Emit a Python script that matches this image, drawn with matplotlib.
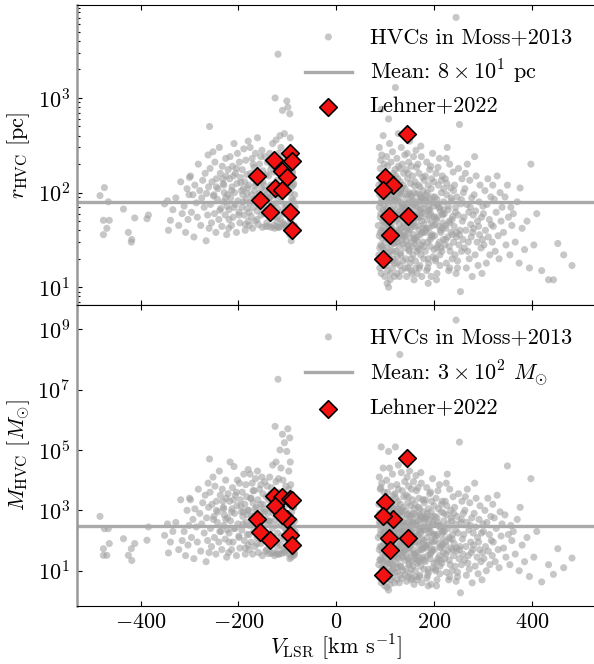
import numpy as np
import matplotlib
matplotlib.use("Agg")
import matplotlib.pyplot as plt
from matplotlib.ticker import NullLocator, FixedLocator, LogFormatterSciNotation

# ---------------- data ----------------
# HVCs in Moss+2013: velocity [km/s], radius [pc], log10 mass [Msun]
hvc_v = [
    -483, -474, -466, -476, -464, -469, -476, -435, -425, -418, -412, -419, -387, -384, -351, -345, -343, -339, -334,
    -328, -322, -318, -315, -311, -308, -305, -303, -301, -300,
    -298, -296, -293, -291, -289, -286, -284, -282, -279, -277, -275, -273, -270, -268, -266, -265, -263, -262, -261, -260,
    -259, -258, -257, -255, -254, -252, -251, -249, -248, -246, -245, -243, -242, -240, -239, -237, -236, -234, -233, -231,
    -230, -229, -227, -226, -225, -224, -223, -222, -221, -220,
    -219, -218, -217, -216, -214, -213, -212, -211, -209, -208, -207, -206, -204, -203, -202, -201, -199, -198, -197, -196,
    -194, -193, -192, -191, -189, -188, -187, -186, -185, -184, -183, -182, -181, -180, -180,
    -179, -178, -177, -176, -175, -174, -173, -172, -171, -170, -169, -168, -167, -166, -165, -164, -163, -162, -161, -160,
    -159, -158, -157, -156, -155, -154, -153, -152, -151, -150, -149, -148, -147, -146, -145, -144, -143, -142, -141, -140,
    -139, -138, -137, -136, -135, -134, -133, -132, -131, -130, -129, -128, -127, -126, -125, -124, -123, -122, -121, -120,
    -119, -118, -117, -116, -115, -114, -113, -112, -111, -110, -109, -108, -107, -106, -105, -104, -103, -102, -101, -100,
    -123, -118, -109, -113, -126,
    -99, -98, -97, -96, -95, -94, -93, -92, -91, -90, -89, -88, -87, -86, -86, -85, -85, -84, -97, -95, -93, -91, -89, -87, -94,
    86, 87, 87, 88, 88, 89, 89, 90, 90, 91, 91, 92, 92, 93, 93, 94, 94, 95, 95, 96,
    96, 97, 97, 98, 98, 99, 99, 100, 100, 100, 88, 90, 92, 94, 96, 98, 91, 93, 95, 97,
    101, 101, 102, 102, 103, 103, 104, 104, 105, 105, 106, 106, 107, 107, 108, 108, 109, 109, 110, 110,
    111, 111, 112, 112, 113, 113, 114, 114, 115, 115, 116, 116, 117, 117, 118, 118, 119, 119, 120, 120,
    102, 104, 106, 108, 110, 112, 114, 116, 118, 107, 103, 109, 113, 117, 111,
    121, 121, 122, 122, 123, 123, 124, 124, 125, 125, 126, 126, 127, 127, 128, 128, 129, 129, 130, 130,
    131, 131, 132, 132, 133, 133, 134, 134, 135, 135, 136, 136, 137, 137, 138, 138, 139, 139, 140, 140,
    122, 124, 126, 128, 130, 132, 134, 136, 138, 125, 127, 129, 131, 133, 135,
    141, 141, 142, 142, 143, 143, 144, 144, 145, 145, 146, 146, 147, 147, 148, 148, 149, 149, 150, 150,
    151, 151, 152, 152, 153, 153, 154, 154, 155, 155, 156, 156, 157, 157, 158, 158, 159, 159, 160, 160,
    143, 145, 147, 149, 151, 153, 155, 157, 159, 150,
    161, 161, 162, 163, 163, 164, 165, 165, 166, 167, 167, 168, 169, 169, 170, 171, 171, 172, 173, 173,
    174, 175, 175, 176, 177, 177, 178, 179, 179, 180, 162, 164, 166, 168, 170, 172, 174, 176, 178, 180,
    165, 169, 173, 177, 171,
    181, 182, 182, 183, 184, 185, 185, 186, 187, 188, 188, 189, 190, 191, 191, 192, 193, 194, 194, 195,
    196, 197, 197, 198, 199, 200, 183, 186, 189, 192, 195, 198, 200, 184, 187, 190, 193, 196, 199, 188,
    201, 202, 203, 204, 205, 206, 207, 208, 209, 210, 211, 212, 213, 214, 215, 216, 217, 218, 219, 220,
    202, 205, 208, 211, 214, 217, 220, 203, 207, 211, 215, 219, 206, 212, 218,
    221, 222, 223, 224, 225, 226, 227, 228, 229, 230, 231, 232, 233, 234, 235, 236, 237, 238, 239, 240,
    223, 226, 229, 232, 235, 238, 225, 231, 237, 240,
    241, 242, 243, 244, 245, 246, 247, 248, 249, 250, 251, 252, 253, 254, 255, 256, 257, 258, 259, 260,
    244, 248, 252, 256, 245,
    261, 262, 263, 265, 266, 267, 268, 270, 271, 272, 273, 275, 276, 277, 278, 280, 264, 269, 274, 279,
    281, 282, 284, 285, 286, 288, 289, 290, 292, 293, 294, 296, 297, 298, 300, 283, 291, 299,
    301, 302, 304, 305, 307, 308, 310, 311, 313, 314, 316, 317, 319, 320,
    321, 323, 325, 327, 329, 331, 333, 335, 337, 339,
    342, 345, 347, 350, 352, 355, 357, 359,
    362, 366, 370, 374, 376, 380, 385, 390, 395, 398,
    404, 410, 420, 434, 444, 453, 465, 482,
    89, 91, 93, 95, 97, 99, 101, 103, 105, 107, 109, 111, 113, 115, 117, 119, 121, 123, 125, 127,
    129, 131, 133, 135, 137, 139, 141, 143, 145, 147, 149, 151, 153, 155, 157, 159, 161, 163, 165, 167,
    169, 171, 173, 175, 177, 179, 182, 185, 188, 191, 194, 197, 201, 205, 209, 213, 217, 224, 232, 246,
    -245, -238, -232, -226, -219, -214, -209, -204, -199, -195, -190, -186, -182, -178, -174, -170, -166, -162, -158, -154,
    -150, -146, -142, -138, -134, -130, -127, -124, -121, -118, -115, -112, -109, -106, -103, -100, -97, -94, -91, -88,
    -250, -230, -210, -190, -170, -150, -135, -120, -105, -92,
]
hvc_r = [
    93, 113, 80, 51, 51, 42, 36, 67, 38, 32, 54, 30, 53, 58, 76, 82, 40, 51, 66,
    88, 45, 130, 60, 72, 38, 110, 52, 95, 145,
    150, 62, 95, 34, 120, 78, 55, 200, 105, 45, 88, 135, 70, 160, 31, 98, 58, 250, 115, 42,
    500, 180, 75, 48, 130, 270, 92, 60, 210, 38, 140, 85, 110, 52, 300, 160, 68, 44, 190, 125,
    80, 100, 58, 230, 150, 36, 72, 95, 175, 42,
    66, 140, 240, 88, 45, 115, 190, 55, 330, 100, 75, 160, 38, 125, 260, 82, 62, 210, 48, 145,
    105, 70, 175, 95, 290, 58, 130, 40, 220, 85, 155, 68, 112, 350, 50,
    120, 45, 78, 300, 160, 56, 95, 230, 42, 140, 70, 185, 105, 50, 260, 88, 125, 64, 380, 150,
    46, 98, 200, 75, 135, 58, 112, 280, 43, 170, 82, 120, 60, 240, 92, 44, 155, 68, 210, 100,
    44, 150, 86, 260, 62, 120, 43, 195, 74, 330, 105, 45, 165, 58, 1000, 92, 230, 44, 135, 68,
    2900, 180, 43, 110, 400, 52, 80, 150, 44, 740, 240, 96, 60, 420, 130, 45, 200, 72, 930, 115,
    360, 43, 48, 300, 42,
    800, 65, 140, 44, 680, 100, 210, 31, 55, 170, 43, 82, 125, 45, 60, 95, 44, 70, 280, 36, 50, 115, 160, 40, 380,
    45, 120, 22, 70, 300, 16, 95, 38, 180, 28, 60, 760, 14, 85, 250, 33, 140, 50, 19, 110,
    400, 42, 25, 75, 200, 13, 62, 155, 30, 90, 35, 55, 130, 20, 65, 48, 220, 27, 100, 18,
    40, 150, 17, 68, 240, 26, 95, 11, 52, 190, 32, 78, 10, 120, 45, 21, 330, 60, 35, 140,
    14, 88, 28, 210, 55, 19, 105, 42, 270, 16, 72, 37, 160, 24, 58, 115, 13, 82, 30, 175,
    48, 65, 23, 100, 12, 44, 135, 20, 62, 600, 34, 50, 85, 29, 125,
    1290, 60, 24, 150, 38, 90, 14, 230, 52, 18, 115, 33, 70, 420, 27, 100, 46, 13, 180, 64,
    36, 130, 22, 80, 300, 42, 15, 95, 56, 200, 29, 75, 120, 19, 48, 160, 34, 66, 250, 26,
    86, 40, 140, 58, 17, 105, 31, 72, 44, 21, 190, 54, 98, 37, 62,
    35, 110, 20, 65, 175, 42, 13, 88, 260, 30, 55, 140, 16, 78, 38, 210, 24, 100, 48, 350,
    18, 70, 125, 33, 58, 15, 92, 190, 27, 44, 150, 62, 22, 84, 36, 240, 12, 52, 118, 29,
    68, 40, 160, 25, 96, 46, 14, 75, 32, 57,
    44, 130, 19, 72, 280, 31, 14, 98, 54, 200, 26, 82, 40, 160, 62, 17, 115, 36, 90, 22,
    240, 50, 13, 68, 145, 30, 105, 46, 20, 76, 58, 185, 34, 120, 16, 66, 28, 88, 42, 135,
    24, 56, 310, 38, 80,
    60, 24, 150, 38, 95, 15, 210, 52, 30, 120, 70, 18, 42, 175, 86, 27, 60, 13, 110, 48,
    34, 260, 78, 21, 56, 130, 40, 100, 65, 32, 140, 45, 25, 82, 16, 57, 190, 36, 72, 11,
    35, 90, 20, 160, 52, 14, 75, 28, 120, 44, 230, 17, 64, 38, 100, 24, 150, 58, 32, 80,
    46, 12, 185, 70, 26, 42, 110, 19, 55, 30, 135, 66, 85, 22, 48,
    60, 28, 140, 42, 18, 95, 300, 34, 72, 15, 50, 200, 24, 112, 38, 82, 20, 56, 165, 30,
    45, 125, 66, 16, 88, 36, 230, 27, 52, 105,
    44, 120, 22, 70, 7100, 34, 90, 16, 58, 180, 28, 525, 40, 9, 76, 24, 140, 50, 32, 100,
    62, 19, 36, 84, 14,
    55, 26, 110, 40, 16, 75, 200, 30, 62, 20, 135, 46, 34, 88, 13, 58, 160, 24, 70, 38,
    42, 95, 22, 64, 150, 30, 50, 17, 80, 36, 120, 26, 55, 14, 72, 240, 44, 32,
    60, 28, 105, 40, 18, 75, 140, 34, 52, 22, 90, 46, 30, 120,
    44, 85, 24, 62, 150, 35, 20, 100, 50, 70,
    38, 90, 28, 120, 55, 22, 70, 45,
    60, 30, 80, 18, 112, 42, 25, 50, 16, 200,
    28, 60, 15, 12, 12, 29, 22, 17,
    26, 78, 40, 130, 22, 58, 34, 88, 15, 46, 104, 24, 66, 36, 92, 18, 50, 120, 30, 82,
    40, 23, 60, 110, 35, 74, 16, 52, 95, 28, 64, 41, 20, 80, 48, 100, 33, 16, 70, 45,
    25, 95, 55, 38, 62, 27, 85, 42, 20, 66, 35, 90, 54, 26, 70, 40, 60, 32, 48, 38,
    115, 65, 140, 88, 52, 105, 70, 180, 58, 128, 80, 46, 98, 62, 150, 84, 118, 52, 74, 240,
    66, 105, 48, 88, 175, 56, 122, 78, 50, 260, 90, 62, 140, 46, 100, 65, 190, 52, 86, 120,
    95, 120, 150, 110, 200, 130, 90, 55, 70, 60,
]
hvc_log_mass = [
    2.80, 2.39, 2.39, 1.73, 1.90, 1.51, 1.51, 2.06, 1.51, 1.34, 1.90, 1.73, 2.01, 2.45, 2.17, 2.55, 1.59, 1.95, 2.30,
    2.60, 1.70, 3.35, 2.00, 2.30, 1.50, 3.00, 1.85, 2.50, 3.40,
    3.35, 2.10, 2.70, 1.40, 3.05, 2.45, 1.95, 3.70, 2.90, 1.65, 2.55, 3.25, 2.25, 3.50, 1.30, 2.75, 2.00, 3.90, 3.10, 1.60,
    4.70, 3.60, 2.40, 1.80, 3.20, 4.10, 2.70, 2.10, 3.80, 1.55, 3.30, 2.60, 2.95, 1.95, 4.30, 3.50, 2.30, 1.70, 3.70, 3.10,
    2.50, 2.85, 2.05, 4.00, 3.40, 1.45, 2.35, 2.75, 3.55, 1.60,
    2.25, 3.30, 4.60, 2.65, 1.70, 3.05, 3.75, 1.95, 4.45, 2.90, 2.40, 3.50, 1.50, 3.15, 4.00, 2.55, 2.15, 3.90, 1.75, 3.35,
    2.95, 2.35, 3.60, 2.80, 4.20, 2.00, 3.20, 1.55, 3.85, 2.60, 3.45, 2.20, 3.00, 4.35, 1.85,
    3.00, 1.70, 2.50, 4.20, 3.40, 1.95, 2.80, 3.90, 1.55, 3.25, 2.30, 3.65, 2.85, 1.80, 4.05, 2.60, 3.10, 2.10, 4.30, 3.35,
    1.60, 2.75, 3.70, 2.40, 3.20, 1.90, 2.95, 4.10, 1.50, 3.55, 2.55, 3.05, 2.00, 3.95, 2.70, 1.65, 3.45, 2.25, 3.80, 2.90,
    1.57, 3.35, 2.60, 4.10, 2.10, 3.05, 1.57, 3.75, 2.40, 4.50, 2.90, 1.60, 3.50, 1.95, 5.78, 2.70, 3.95, 1.57, 3.20, 2.25,
    7.34, 3.60, 1.55, 3.00, 5.00, 1.85, 2.50, 3.45, 1.57, 5.52, 4.00, 2.75, 2.05, 5.24, 3.15, 1.60, 3.80, 2.35, 4.95, 2.85,
    4.60, 1.55, 1.70, 4.40, 1.50,
    5.70, 2.20, 3.30, 1.55, 5.40, 2.80, 3.85, 1.45, 1.90, 3.50, 1.55, 2.45, 3.10, 1.60, 2.00, 2.65, 1.55, 2.30, 4.30, 1.40, 1.75, 2.95, 3.40, 1.50, 4.60,
    2.10, 3.20, 1.20, 2.60, 4.10, 0.80, 2.90, 1.80, 3.70, 1.40, 2.35, 5.10, 0.60, 2.70, 3.90, 1.60, 3.30, 2.15, 1.00, 3.00,
    4.40, 1.90, 1.30, 2.55, 3.60, 0.50, 2.30, 3.40, 1.50, 2.80, 1.70, 2.20, 3.25, 1.10, 2.40, 2.05, 3.75, 1.35, 2.95, 0.90,
    1.85, 3.40, 0.90, 2.50, 4.00, 1.30, 2.85, 0.45, 2.20, 3.60, 1.55, 2.60, 0.36, 3.10, 2.00, 1.10, 4.40, 2.35, 1.70, 3.35,
    0.70, 2.75, 1.40, 3.80, 2.25, 1.00, 3.00, 1.95, 4.20, 0.80, 2.55, 1.75, 3.50, 1.20, 2.30, 3.05, 0.60, 2.65, 1.50, 3.55,
    2.10, 2.45, 1.25, 2.90, 0.55, 1.90, 3.25, 1.05, 2.40, 4.95, 1.60, 2.15, 2.70, 1.45, 3.15,
    5.10, 2.30, 1.25, 3.40, 1.75, 2.80, 0.70, 3.85, 2.15, 0.95, 3.05, 1.60, 2.55, 4.50, 1.40, 2.90, 2.05, 0.60, 8.16, 2.40,
    1.70, 3.20, 1.15, 2.65, 4.25, 1.90, 0.75, 2.85, 2.20, 3.65, 1.45, 2.60, 3.10, 1.00, 2.00, 3.45, 1.65, 2.35, 3.95, 1.35,
    2.70, 1.85, 3.30, 2.25, 0.85, 3.00, 1.55, 2.50, 1.95, 1.10, 3.70, 2.10, 2.95, 1.80, 2.30,
    1.70, 3.00, 1.05, 2.45, 3.50, 1.90, 0.65, 2.75, 4.10, 1.45, 2.20, 3.25, 0.80, 2.60, 1.75, 3.80, 1.20, 2.90, 2.00, 4.30,
    0.90, 2.50, 3.15, 1.60, 2.30, 0.70, 2.85, 3.70, 1.35, 1.95, 3.35, 2.40, 1.15, 2.70, 1.70, 3.95, 0.55, 2.15, 3.05, 1.40,
    2.55, 1.80, 3.45, 1.25, 2.80, 1.90, 0.75, 2.60, 1.55, 2.25,
    1.95, 3.20, 1.00, 2.55, 4.15, 1.50, 0.70, 2.85, 2.15, 3.75, 1.35, 2.65, 1.85, 3.40, 2.35, 0.85, 3.05, 1.70, 2.80, 1.15,
    3.90, 2.05, 0.60, 2.45, 3.35, 1.45, 2.95, 2.00, 1.05, 2.60, 2.25, 3.65, 1.60, 3.10, 0.80, 2.40, 1.40, 2.75, 1.90, 3.25,
    1.25, 2.20, 4.25, 1.75, 2.70,
    2.35, 1.30, 3.35, 1.75, 2.80, 0.75, 3.75, 2.10, 1.50, 3.05, 2.50, 0.95, 1.85, 3.55, 2.70, 1.40, 2.30, 0.55, 2.95, 2.00,
    1.65, 4.05, 2.60, 1.10, 2.20, 3.15, 1.80, 2.90, 2.40, 1.55, 3.30, 1.95, 1.25, 2.75, 0.85, 2.25, 3.60, 1.70, 2.55, 0.50,
    1.70, 2.80, 1.05, 3.40, 2.15, 0.70, 2.60, 1.40, 3.05, 1.90, 3.85, 0.90, 2.40, 1.75, 2.95, 1.25, 3.30, 2.25, 1.60, 2.65,
    2.00, 0.50, 3.65, 2.50, 1.35, 1.85, 2.90, 1.00, 2.20, 1.50, 3.20, 2.45, 2.75, 1.15, 2.05,
    2.30, 1.40, 3.30, 1.85, 0.95, 2.85, 4.20, 1.65, 2.55, 0.70, 2.10, 3.70, 1.20, 3.00, 1.75, 2.65, 1.00, 2.20, 3.45, 1.50,
    1.95, 3.15, 2.40, 0.80, 2.75, 1.70, 3.90, 1.35, 2.05, 2.90,
    1.90, 3.10, 1.15, 2.55, 9.30, 1.65, 2.80, 0.80, 2.25, 3.55, 1.40, 5.26, 1.80, 0.27, 2.60, 1.20, 3.30, 2.05, 1.55, 2.90,
    2.35, 0.95, 1.70, 2.70, 0.65,
    2.20, 1.35, 3.00, 1.80, 0.85, 2.60, 3.70, 1.50, 2.35, 1.05, 3.25, 1.95, 1.60, 2.75, 0.60, 2.25, 3.45, 1.25, 2.50, 1.70,
    1.85, 2.90, 1.15, 2.45, 3.40, 1.45, 2.10, 0.90, 2.70, 1.70, 3.15, 1.30, 2.25, 0.70, 2.55, 3.90, 1.95, 1.60,
    2.30, 1.40, 3.00, 1.80, 1.00, 2.60, 3.40, 1.65, 2.20, 1.20, 2.80, 2.00, 1.50, 3.20,
    1.95, 2.75, 1.30, 2.40, 3.50, 1.70, 1.10, 2.95, 2.15, 2.55,
    1.75, 2.85, 1.45, 4.47, 2.20, 1.20, 2.50, 2.00,
    2.30, 1.55, 2.70, 1.00, 3.10, 1.85, 1.30, 2.10, 0.81, 4.05,
    1.45, 2.30, 0.63, 1.20, 0.88, 1.73, 1.10, 1.42,
    1.35, 2.55, 1.80, 3.20, 1.10, 2.25, 1.55, 2.70, 0.75, 1.95, 2.95, 1.25, 2.45, 1.65, 2.80, 0.95, 2.10, 3.10, 1.45, 2.65,
    1.85, 1.15, 2.35, 2.95, 1.60, 2.50, 0.85, 2.15, 2.85, 1.40, 2.40, 1.80, 1.05, 2.60, 2.05, 2.90, 1.55, 0.80, 2.50, 1.95,
    1.30, 2.85, 2.25, 1.70, 2.35, 1.35, 2.70, 1.85, 1.05, 2.45, 1.60, 2.80, 2.20, 1.30, 2.50, 1.80, 2.30, 1.55, 2.05, 1.75,
    3.00, 2.30, 3.30, 2.70, 1.95, 2.95, 2.40, 3.60, 2.10, 3.15, 2.55, 1.75, 2.85, 2.20, 3.40, 2.60, 3.05, 1.90, 2.45, 3.85,
    2.25, 2.95, 1.70, 2.65, 3.55, 2.00, 3.10, 2.50, 1.80, 4.05, 2.70, 2.15, 3.30, 1.65, 2.90, 2.20, 3.70, 1.85, 2.60, 3.10,
    2.80, 3.05, 3.35, 2.95, 3.65, 3.20, 2.65, 1.95, 2.40, 2.10,
]

# Lehner+2022 sample
lehner_v = [-162, -128, -111, -100, -94, -91, -125, -111, -155, -135, -95, -91,
            145, 99, 116, 95, 108, 147, 110, 95]
lehner_r = [150, 219, 171, 148, 263, 214, 111, 107, 84, 62, 62, 40,
            420, 148, 121, 107, 56, 56, 36, 20]
lehner_mass = [530, 2900, 2750, 530, 2450, 2200, 1360, 680, 190, 108, 147, 69,
               55600, 1880, 530, 630, 125, 125, 47, 7]

mean_r = 80      # pc
mean_mass = 300  # Msun

xticks = [-400, -200, 0, 200, 400]
r_ticks = [1e1, 1e2, 1e3]
m_ticks = [1e1, 1e3, 1e5, 1e7, 1e9]

n = min(len(hvc_v), len(hvc_r), len(hvc_log_mass))
hvc_v_a = np.array(hvc_v[:n], dtype=float)
hvc_r_a = np.array(hvc_r[:n], dtype=float)
hvc_m_a = 10.0 ** np.array(hvc_log_mass[:n], dtype=float)

# ---------------- style ----------------
plt.rcParams.update({
    "font.family": "serif",
    "font.serif": ["cmr10", "DejaVu Serif"],
    "mathtext.fontset": "cm",
    "axes.formatter.use_mathtext": True,
    "axes.unicode_minus": True,
    "font.size": 16,
})

fig = plt.figure(figsize=(5.94, 6.64), dpi=100)
left, width = 77 / 594, 1 - 77 / 594
ax1 = fig.add_axes([left, 1 - 305 / 664, width, 300 / 664])
ax2 = fig.add_axes([left, 1 - 606 / 664, width, 301 / 664], sharex=ax1)

grey = "#a2a2a2"
for ax, yvals, lv, mean, mlabel in [
    (ax1, hvc_r_a, lehner_r, mean_r, r"Mean: $8\times10^1$ pc"),
    (ax2, hvc_m_a, lehner_mass, mean_mass, r"Mean: $3\times10^2$ $M_{\odot}$"),
]:
    ax.scatter(hvc_v_a, yvals, s=26, color=grey, alpha=0.6, edgecolors="none",
               label="HVCs in Moss+2013", zorder=1)
    ax.axhline(mean, color="#aaaaaa", lw=2.4, label=mlabel, zorder=2)
    ax.scatter(lehner_v, lv, marker="D", s=80, facecolor="#f21212", edgecolor="black",
               linewidths=1.2, label="Lehner+2022", zorder=3)
    ax.set_yscale("log")
    ax.legend(loc="upper right", frameon=False, scatterpoints=1, handlelength=2.1,
              handletextpad=0.8, labelspacing=0.5, borderaxespad=0.6)
    ax.spines["right"].set_visible(False)
    ax.spines["left"].set_color("#999999")
    ax.spines["left"].set_linewidth(1.8)
    ax.tick_params(which="both", direction="in", top=True, right=False, width=0.8)
    ax.tick_params(which="major", length=3.8, pad=5)
    ax.tick_params(which="minor", length=2.4)

ax1.set_xlim(-530, 527)
ax1.set_xticks(xticks)
ax1.xaxis.set_minor_locator(NullLocator())
ax1.set_ylim(6.5, 9.6e3)
ax1.set_yticks(r_ticks)
ax1.tick_params(labelbottom=False)
ax1.set_ylabel(r"$r_{\rm HVC}$ [pc]")

ax2.set_ylim(0.68, 6.3e9)
ax2.yaxis.set_major_locator(FixedLocator(m_ticks))
ax2.yaxis.set_major_formatter(LogFormatterSciNotation())
ax2.yaxis.set_minor_locator(NullLocator())
ax2.set_ylabel(r"$M_{\rm HVC}$ [$M_{\odot}$]")
ax2.set_xlabel(r"$V_{\rm LSR}$ [km s$^{-1}$]", labelpad=0)

fig.align_ylabels([ax1, ax2])
fig.savefig("out.png", dpi=100)
